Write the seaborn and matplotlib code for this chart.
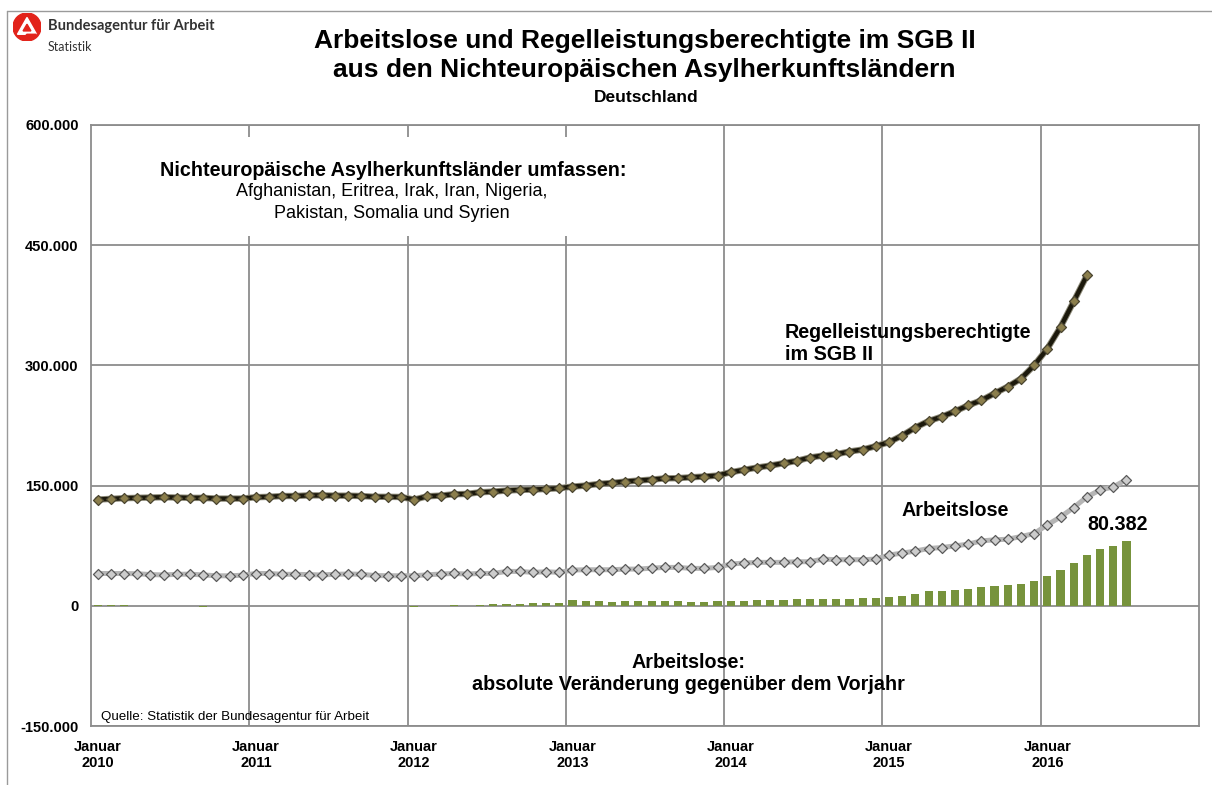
import numpy as np
import pandas as pd
import matplotlib
matplotlib.use('Agg')
import matplotlib.pyplot as plt
import matplotlib.patheffects as pe
from matplotlib.patches import Circle, Polygon, Rectangle
from matplotlib.lines import Line2D
from matplotlib.ticker import FuncFormatter, FixedLocator
import seaborn as sns

# Monatswerte ab Januar 2010
regel = [132600, 133400, 134300, 134700, 135100, 135500, 135100, 134700, 134700, 133800, 133800, 133800,
         135500, 136000, 137000, 137000, 137800, 137800, 137400, 137400, 137000, 136000, 136000, 135800,
         132500, 136700, 137500, 139200, 139600, 141700, 142500, 143800, 144600, 145000, 145800, 146700,
         148800, 150000, 152100, 153300, 155000, 156300, 157500, 159000, 159300, 160400, 161300, 162500,
         166700, 169600, 172500, 175000, 177900, 180800, 185000, 187500, 189200, 192500, 195000, 199200,
         204200, 212500, 222500, 230500, 236000, 242700, 250100, 256400, 265100, 273400, 283400, 300000,
         320800, 347800, 379800, 412200]

arbeitslose = [40300, 40300, 40300, 40000, 39000, 38500, 39300, 39500, 38500, 37500, 37400, 38200,
               40300, 40300, 39300, 39300, 38900, 38500, 39300, 39700, 39300, 37800, 37500, 37500,
               37500, 38700, 39600, 40400, 39600, 40400, 40400, 42900, 42900, 41700, 42500, 41700,
               44600, 45000, 45000, 45000, 45800, 45800, 47000, 47900, 47900, 46700, 46700, 47900,
               52100, 53300, 54200, 54200, 54200, 55000, 55000, 58300, 57500, 57500, 57500, 58300,
               63300, 65800, 68300, 71500, 72700, 74800, 76900, 81000, 82300, 83100, 86400, 90200,
               101000, 110900, 122600, 135900, 144600, 148300, 157500]

veraenderung = [1500, 600, 500, 100, -400, -700, -500, -700, -900, -600, -400, -200,
                300, 200, -300, -200, 100, 200, 100, 200, 300, 200, 100, -200,
                -2000, -300, 200, 400, 200, 800, 1700, 2500, 2500, 3300, 3750, 3750,
                6700, 5400, 5400, 4600, 5800, 5400, 5400, 5400, 5400, 5200, 5200, 6200,
                6250, 6250, 7500, 7500, 7500, 7900, 8300, 8300, 8750, 8750, 9200, 9600,
                11250, 12500, 15000, 18000, 18300, 19500, 20800, 22900, 24100, 25800, 27000, 31200,
                37400, 44500, 54000, 64000, 71100, 74800, 80382]

jahre = ['2010', '2011', '2012', '2013', '2014', '2015', '2016']

W, H = 1212, 785
def fx(px):
    return px / W
def fy(py):
    return 1 - py / H

sns.set_theme(style='white')
plt.rcParams['font.family'] = ['Liberation Sans', 'DejaVu Sans']
plt.rcParams['text.color'] = 'black'
plt.rcParams['xtick.color'] = 'black'
plt.rcParams['ytick.color'] = 'black'

fig = plt.figure(figsize=(W / 100, H / 100), dpi=100)
ax = fig.add_axes([fx(91), fy(726), fx(1199) - fx(91), fy(125) - fy(726)])

df_bar = pd.DataFrame({'monat': np.arange(len(veraenderung)), 'wert': veraenderung})
df_al = pd.DataFrame({'monat': np.arange(len(arbeitslose)), 'wert': arbeitslose})
df_rl = pd.DataFrame({'monat': np.arange(len(regel)), 'wert': regel})

sns.barplot(data=df_bar, x='monat', y='wert', native_scale=True, color='#77933c',
            saturation=1, width=0.62, errorbar=None, linewidth=0, ax=ax, zorder=2)

sns.lineplot(data=df_al, x='monat', y='wert', color='#b5b5b5', linewidth=3.6, ax=ax, zorder=3)
sns.scatterplot(data=df_al, x='monat', y='wert', marker='D', s=26, color='#cccccc',
                edgecolor='#5a5a5a', linewidth=0.9, ax=ax, zorder=4)

sns.lineplot(data=df_rl, x='monat', y='wert', color='#1c190c', linewidth=3.2, ax=ax, zorder=5,
             path_effects=[pe.Stroke(linewidth=4.6, foreground='#8d8a78'), pe.Normal()])
sns.scatterplot(data=df_rl, x='monat', y='wert', marker='D', s=26, color='#8b7e4c',
                edgecolor='#4a4530', linewidth=0.9, ax=ax, zorder=6)

ax.set_xlim(-0.5, 83.5)
ax.set_ylim(-150000, 600000)
ax.set_yticks(np.arange(-150000, 600001, 150000))
ax.yaxis.set_major_formatter(FuncFormatter(lambda v, p: f'{v:,.0f}'.replace(',', '.')))
ax.set_xticks(np.arange(0, 73, 12))
ax.set_xticklabels(['Januar\n' + j for j in jahre])
ax.xaxis.set_minor_locator(FixedLocator(np.arange(11.5, 72, 12)))
ax.set_xlabel('')
ax.set_ylabel('')

ax.set_axisbelow(True)
ax.yaxis.grid(True, color='#8c8c8c', linewidth=1.3)
ax.xaxis.grid(True, which='minor', color='#8c8c8c', linewidth=1.3)
ax.xaxis.grid(False, which='major')
for s in ax.spines.values():
    s.set_color('#8c8c8c')
    s.set_linewidth(1.3)
ax.tick_params(axis='both', which='both', length=0)
ax.tick_params(axis='y', pad=9, labelsize=10.5)
ax.tick_params(axis='x', pad=10, labelsize=10.5)
for lab in ax.get_xticklabels() + ax.get_yticklabels():
    lab.set_fontweight('bold')

# weisser Kasten hinter dem Hinweistext
fig.add_artist(Rectangle((fx(94), fy(236)), fx(690) - fx(94), fy(137) - fy(236),
                         transform=fig.transFigure, facecolor='white', edgecolor='none', zorder=1))
fig.text(fx(393), fy(170), 'Nichteuropäische Asylherkunftsländer umfassen:', ha='center', va='center',
         fontsize=14.2, fontweight='bold', zorder=2)
fig.text(fx(392), fy(192), 'Afghanistan, Eritrea, Irak, Iran, Nigeria,', ha='center', va='center',
         fontsize=13, zorder=2)
fig.text(fx(392), fy(213), 'Pakistan, Somalia und Syrien', ha='center', va='center',
         fontsize=13, zorder=2)

fig.text(fx(785), fy(332), 'Regelleistungsberechtigte', ha='left', va='center', fontsize=14.2, fontweight='bold')
fig.text(fx(785), fy(354), 'im SGB II', ha='left', va='center', fontsize=14.2, fontweight='bold')
fig.text(fx(902), fy(510), 'Arbeitslose', ha='left', va='center', fontsize=14.2, fontweight='bold')
fig.text(fx(1118), fy(525), '80.382', ha='center', va='center', fontsize=14.2, fontweight='bold')
fig.text(fx(688), fy(662), 'Arbeitslose:', ha='center', va='center', fontsize=14.2, fontweight='bold')
fig.text(fx(688), fy(684), 'absolute Veränderung gegenüber dem Vorjahr', ha='center', va='center',
         fontsize=14.2, fontweight='bold')
fig.text(fx(101), fy(717), 'Quelle: Statistik der Bundesagentur für Arbeit', ha='left', va='center', fontsize=9.6)

# Titel
fig.text(fx(645), fy(41), 'Arbeitslose und Regelleistungsberechtigte im SGB II', ha='center', va='center',
         fontsize=19, fontweight='bold')
fig.text(fx(644), fy(70), 'aus den Nichteuropäischen Asylherkunftsländern', ha='center', va='center',
         fontsize=19, fontweight='bold')
fig.text(fx(646), fy(97), 'Deutschland', ha='center', va='center', fontsize=12.5, fontweight='bold')

# Logo
lax = fig.add_axes([fx(13), fy(41), fx(41) - fx(13), fy(13) - fy(41)])
lax.set_xlim(0, 1)
lax.set_ylim(0, 1)
lax.axis('off')
lax.add_patch(Circle((0.5, 0.5), 0.5, color='#e2231a'))
lax.add_patch(Polygon([[0.16, 0.24], [0.5, 0.84], [0.84, 0.24]], closed=True, color='white'))
lax.add_patch(Polygon([[0.36, 0.36], [0.5, 0.6], [0.64, 0.36]], closed=True, color='#e2231a'))
lax.add_patch(Polygon([[0.5, 0.24], [0.84, 0.24], [0.7, 0.12], [0.38, 0.12]], closed=True, color='#e2231a'))
fig.text(fx(48), fy(26), 'Bundesagentur für Arbeit', ha='left', va='center', fontsize=10.5,
         fontweight='bold', color='#333333', family=['Lato', 'DejaVu Sans'])
fig.text(fx(48), fy(47), 'Statistik', ha='left', va='center', fontsize=9, color='#333333',
         family=['Lato', 'DejaVu Sans'])

# Rahmen
fig.add_artist(Line2D([fx(7), fx(7)], [0, fy(11)], transform=fig.transFigure, color='#9a9a9a', lw=1))
fig.add_artist(Line2D([fx(7), 1], [fy(11), fy(11)], transform=fig.transFigure, color='#9a9a9a', lw=1))

fig.savefig('out.png', dpi=100)
